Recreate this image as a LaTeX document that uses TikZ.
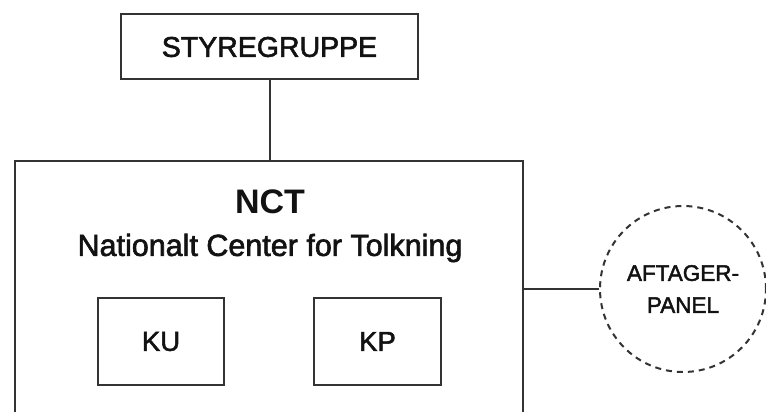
\documentclass[tikz,border=0pt]{standalone}
\usepackage{fontspec}
\setmainfont{Liberation Sans}
\newfontfamily\medfont{Liberation Sans}[FakeBold=2]
\begin{document}
\begin{tikzpicture}[x=1pt,y=-1pt,
  boxstyle/.style={draw=black!80, line width=2pt, inner sep=0pt, fill=white},
  linkstyle/.style={draw=black!80, line width=2pt},
  txt/.style={text=black!93, inner sep=0pt}]
\useasboundingbox[fill=white] (0,0) rectangle (766,412);
\clip (0,0) rectangle (766,412);
\node[boxstyle, minimum width=297pt, minimum height=65pt, font=\medfont\fontsize{28.5}{30}\selectfont, txt] (styre) at (269.5,47) {STYREGRUPPE};
\node[boxstyle, minimum width=508.5pt, minimum height=269pt] (nct) at (268.75,295.5) {};
\node[txt, font=\fontsize{34}{36}\selectfont\bfseries] (nctt) at (270,202) {NCT};
\node[txt, font=\medfont\fontsize{30.5}{32}\selectfont] (nctname) at (270,248) {Nationalt Center for Tolkning};
\node[boxstyle, minimum width=126pt, minimum height=87pt, font=\medfont\fontsize{27.5}{30}\selectfont, txt] (ku) at (161,341.5) {KU};
\node[boxstyle, minimum width=127pt, minimum height=87pt, font=\medfont\fontsize{27.5}{30}\selectfont, txt] (kp) at (377.5,341.5) {KP};
\node[draw=black!80, line width=2pt, dash pattern=on 6pt off 5pt, circle, minimum size=166pt, inner sep=0pt, align=center, txt, font=\medfont\fontsize{22.5}{32}\selectfont] (panel) at (683,289) {AFTAGER-\\PANEL};
\draw[linkstyle] (styre.south) -- (styre.south |- nct.north);
\draw[linkstyle] (panel.west) -- (panel.west -| nct.east);
\end{tikzpicture}
\end{document}
